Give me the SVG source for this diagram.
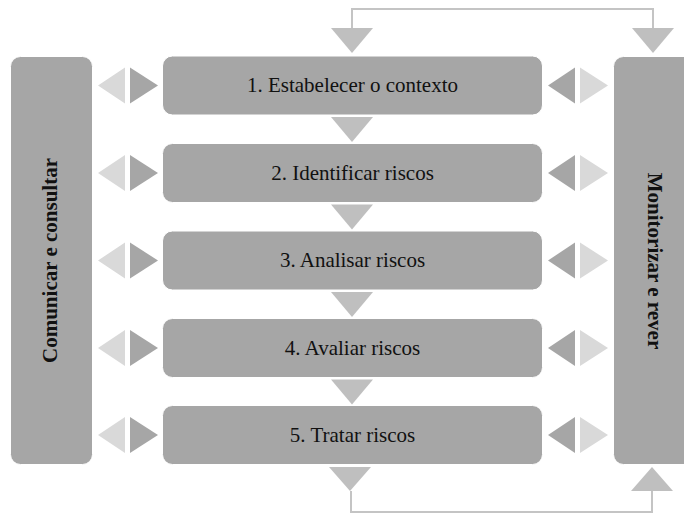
<svg xmlns="http://www.w3.org/2000/svg" width="684" height="515" viewBox="0 0 684 515">
  <style>
    .box { fill: #a6a6a6; stroke: #ffffff; stroke-width: 1; }
    .side { fill: #a6a6a6; stroke: #ffffff; stroke-width: 1; }
    .step { font-family: "Liberation Serif", "Times New Roman", serif; font-size: 21px; fill: #111111; text-anchor: middle; }
    .vlabel { font-family: "Liberation Serif", "Times New Roman", serif; font-size: 21px; font-weight: bold; fill: #111111; text-anchor: middle; }
    .flow { fill: #bfbfbf; }
    .light { fill: #d9d9d9; }
    .dark { fill: #a6a6a6; }
    .loop { fill: none; stroke: #c4c4c4; stroke-width: 2; }
  </style>

  <!-- side panels -->
  <g id="comunicar">
    <rect class="side" x="10.5" y="56.5" width="82" height="408" rx="10"/>
    <text class="vlabel" transform="translate(57,260.5) rotate(-90)">Comunicar e consultar</text>
  </g>
  <g id="monitorizar">
    <rect class="side" x="613.5" y="56.5" width="82" height="408" rx="10"/>
    <text class="vlabel" transform="translate(648,261) rotate(90)">Monitorizar e rever</text>
  </g>

  <!-- process steps -->
  <g id="step1">
    <rect class="box" x="162.5" y="56" width="380" height="59" rx="10"/>
    <text class="step" x="352.5" y="92">1. Estabelecer o contexto</text>
  </g>
  <g id="step2">
    <rect class="box" x="162.5" y="143.5" width="380" height="59" rx="10"/>
    <text class="step" x="352.5" y="179.5">2. Identificar riscos</text>
  </g>
  <g id="step3">
    <rect class="box" x="162.5" y="231" width="380" height="59" rx="10"/>
    <text class="step" x="352.5" y="267">3. Analisar riscos</text>
  </g>
  <g id="step4">
    <rect class="box" x="162.5" y="318.5" width="380" height="59" rx="10"/>
    <text class="step" x="352.5" y="354.5">4. Avaliar riscos</text>
  </g>
  <g id="step5">
    <rect class="box" x="162.5" y="405.5" width="380" height="59" rx="10"/>
    <text class="step" x="352.5" y="441.5">5. Tratar riscos</text>
  </g>

  <!-- connectors -->
  <g id="connectors">
    <!-- feedback loops -->
    <polyline class="loop" points="352,28 352,9 653,9 653,28"/>
    <polyline class="loop" points="351,491 351,512 652,512 652,491"/>

    <!-- downward flow -->
    <polygon class="flow" points="331,28 373,28 352,53"/>
    <polygon class="flow" points="632,28 674,28 653,53"/>
    <polygon class="flow" points="331,117 373,117 352,142"/>
    <polygon class="flow" points="331,204.5 373,204.5 352,229.5"/>
    <polygon class="flow" points="331,292 373,292 352,317"/>
    <polygon class="flow" points="331,379.5 373,379.5 352,404.5"/>
    <polygon class="flow" points="329,467 371,467 350,491"/>
    <polygon class="flow" points="631,491 673,491 652,467"/>

    <!-- exchange with "Comunicar e consultar" -->
    <g id="left-arrows">
      <polygon class="light" points="125,67.5 125,103.5 98,85.5"/>
      <polygon class="dark" points="130,67.5 130,103.5 158,85.5"/>
      <polygon class="light" points="125,155 125,191 98,173"/>
      <polygon class="dark" points="130,155 130,191 158,173"/>
      <polygon class="light" points="125,242.5 125,278.5 98,260.5"/>
      <polygon class="dark" points="130,242.5 130,278.5 158,260.5"/>
      <polygon class="light" points="125,330 125,366 98,348"/>
      <polygon class="dark" points="130,330 130,366 158,348"/>
      <polygon class="light" points="125,417 125,453 98,435"/>
      <polygon class="dark" points="130,417 130,453 158,435"/>
    </g>

    <!-- exchange with "Monitorizar e rever" -->
    <g id="right-arrows">
      <polygon class="dark" points="575,67.5 575,103.5 548,85.5"/>
      <polygon class="light" points="580,67.5 580,103.5 608,85.5"/>
      <polygon class="dark" points="575,155 575,191 548,173"/>
      <polygon class="light" points="580,155 580,191 608,173"/>
      <polygon class="dark" points="575,242.5 575,278.5 548,260.5"/>
      <polygon class="light" points="580,242.5 580,278.5 608,260.5"/>
      <polygon class="dark" points="575,330 575,366 548,348"/>
      <polygon class="light" points="580,330 580,366 608,348"/>
      <polygon class="dark" points="575,417 575,453 548,435"/>
      <polygon class="light" points="580,417 580,453 608,435"/>
    </g>
  </g>
</svg>
